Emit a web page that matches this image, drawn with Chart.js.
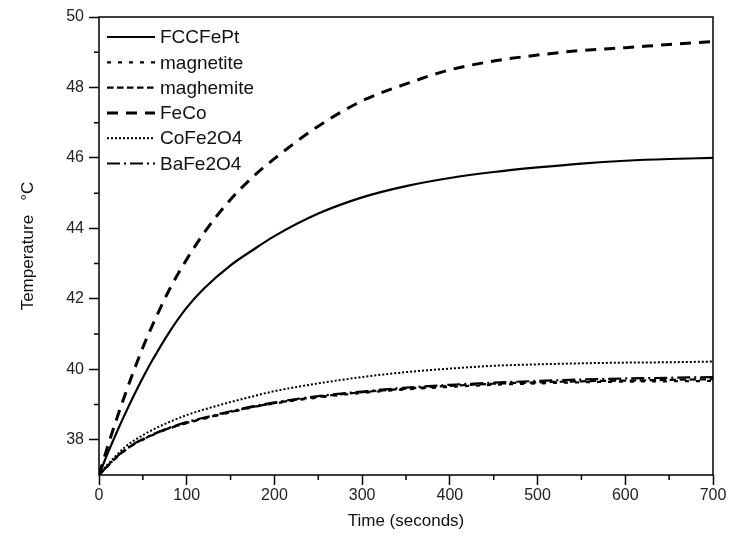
<!DOCTYPE html>
<html>
<head>
<meta charset="utf-8">
<script src="https://cdn.jsdelivr.net/npm/chart.js@4.4.0/dist/chart.umd.min.js"></script>
<style>
  html, body { margin: 0; padding: 0; background: #fff; }
  #wrap { width: 729px; height: 547px; position: relative; }
</style>
</head>
<body>
<div id="wrap"><canvas id="grafico"></canvas></div>
<script>
// time in seconds
const tempos = [0, 10, 20, 30, 40, 50, 60, 80, 100, 120, 150, 175, 200, 250, 300, 350, 400, 450, 500, 550, 600, 650, 700];

const fccFePt   = [37, 37.62, 38.2, 38.75, 39.27, 39.76, 40.22, 41.05, 41.75, 42.3, 42.95, 43.38, 43.78, 44.42, 44.88, 45.2, 45.43, 45.6, 45.73, 45.84, 45.92, 45.97, 46.0];
const magnetite = [37, 37.25, 37.5, 37.7, 37.87, 38.0, 38.12, 38.32, 38.47, 38.6, 38.78, 38.92, 39.03, 39.2, 39.33, 39.43, 39.5, 39.56, 39.6, 39.63, 39.65, 39.66, 39.67];
const maghemite = [37, 37.26, 37.5, 37.71, 37.88, 38.01, 38.13, 38.33, 38.48, 38.61, 38.79, 38.93, 39.04, 39.22, 39.35, 39.45, 39.53, 39.59, 39.63, 39.66, 39.68, 39.7, 39.72];
const feCo      = [37, 37.82, 38.58, 39.3, 39.98, 40.62, 41.2, 42.25, 43.12, 43.88, 44.82, 45.45, 45.98, 46.9, 47.62, 48.1, 48.5, 48.75, 48.92, 49.05, 49.13, 49.22, 49.3];
const coFe2O4   = [37, 37.3, 37.56, 37.8, 37.98, 38.13, 38.27, 38.5, 38.7, 38.86, 39.07, 39.23, 39.38, 39.6, 39.78, 39.92, 40.02, 40.1, 40.14, 40.17, 40.19, 40.2, 40.22];
const baFe2O4   = [37, 37.26, 37.51, 37.72, 37.89, 38.02, 38.14, 38.34, 38.5, 38.63, 38.81, 38.95, 39.06, 39.24, 39.37, 39.48, 39.56, 39.62, 39.67, 39.71, 39.74, 39.76, 39.78];

const nomes = ['FCCFePt', 'magnetite', 'maghemite', 'FeCo', 'CoFe2O4', 'BaFe2O4'];

const xTicks = [0, 100, 200, 300, 400, 500, 600, 700];
const xMinor = [50, 150, 250, 350, 450, 550, 650];
const yTicks = [38, 40, 42, 44, 46, 48, 50];
const yMinor = [39, 41, 43, 45, 47, 49];

const fonte = "'Liberation Sans', Arial, sans-serif";

function serie(valores) {
  return tempos.map((t, i) => ({ x: t, y: valores[i] }));
}

const estilos = [
  { dash: [], width: 2.2 },
  { dash: [4, 7], width: 2.2 },
  { dash: [6.5, 3.5], width: 2.2 },
  { dash: [11, 8], width: 3 },
  { dash: [2, 2], width: 2 },
  { dash: [13, 4, 2, 4], width: 2.2 }
];

const valoresSeries = [fccFePt, magnetite, maghemite, feCo, coFe2O4, baFe2O4];

const datasets = valoresSeries.map((v, i) => ({
  label: nomes[i],
  data: serie(v),
  borderColor: '#000',
  backgroundColor: '#000',
  borderWidth: estilos[i].width,
  borderDash: estilos[i].dash,
  pointRadius: 0,
  fill: false,
  cubicInterpolationMode: 'monotone'
}));

// frame, minor ticks and legend inside the plot
const extras = {
  id: 'extras',
  afterDraw(chart) {
    const { ctx, chartArea: a, scales } = chart;
    ctx.save();
    ctx.strokeStyle = '#000';
    ctx.lineWidth = 1.5;
    ctx.setLineDash([]);
    ctx.strokeRect(a.left, a.top, a.right - a.left, a.bottom - a.top);

    ctx.beginPath();
    xMinor.forEach(v => {
      const px = scales.x.getPixelForValue(v);
      ctx.moveTo(px, a.bottom);
      ctx.lineTo(px, a.bottom + 5);
    });
    yMinor.forEach(v => {
      const py = scales.y.getPixelForValue(v);
      ctx.moveTo(a.left, py);
      ctx.lineTo(a.left - 5, py);
    });
    ctx.stroke();

    // legend
    const x0 = a.left + 8;
    const largura = 48;
    ctx.font = '19px ' + fonte;
    ctx.textBaseline = 'middle';
    ctx.fillStyle = '#111';
    chart.data.datasets.forEach((ds, i) => {
      const y = a.top + 20 + i * 25.3;
      ctx.beginPath();
      ctx.lineWidth = ds.borderWidth;
      ctx.setLineDash(ds.borderDash);
      ctx.moveTo(x0, y);
      ctx.lineTo(x0 + largura, y);
      ctx.stroke();
      ctx.setLineDash([]);
      ctx.fillText(ds.label, x0 + largura + 5, y + 1);
    });
    ctx.restore();
  }
};

document.addEventListener('DOMContentLoaded', function () {
  const ctx = document.getElementById('grafico').getContext('2d');
  new Chart(ctx, {
    type: 'line',
    data: { datasets: datasets },
    plugins: [extras],
    options: {
      responsive: true,
      maintainAspectRatio: false,
      devicePixelRatio: 1,
      animation: false,
      layout: { padding: { top: 17, right: 16, left: 0, bottom: 0 } },
      plugins: {
        legend: { display: false },
        tooltip: { enabled: false }
      },
      scales: {
        x: {
          type: 'linear',
          min: 0,
          max: 700,
          afterBuildTicks: s => { s.ticks = xTicks.map(v => ({ value: v })); },
          afterFit: s => { s.height = 72; },
          border: { display: false },
          grid: { drawOnChartArea: false, drawTicks: true, tickLength: 10, tickColor: '#000', tickWidth: 1.5 },
          ticks: { color: '#222', padding: 1, maxRotation: 0, font: { family: fonte, size: 16 } },
          title: { display: true, text: 'Time (seconds)', color: '#111', font: { family: fonte, size: 17 }, padding: { top: 0, bottom: 15 } }
        },
        y: {
          min: 37,
          max: 50,
          afterBuildTicks: s => { s.ticks = yTicks.map(v => ({ value: v })); },
          afterFit: s => { s.width = 99; },
          border: { display: false },
          grid: { drawOnChartArea: false, drawTicks: true, tickLength: 10, tickColor: '#000', tickWidth: 1.5 },
          ticks: { color: '#222', padding: 5, font: { family: fonte, size: 16 } },
          title: { display: true, text: 'Temperature   °C', color: '#111', font: { family: fonte, size: 17 }, padding: { top: 18, bottom: 0 } }
        }
      }
    }
  });
});
</script>
</body>
</html>
